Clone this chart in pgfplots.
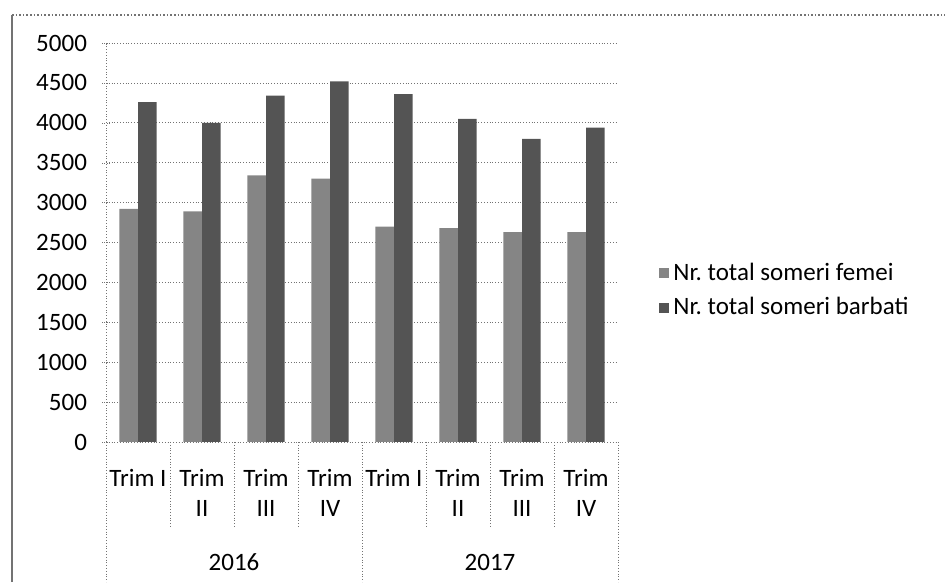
\documentclass[border=0pt]{standalone}
\usepackage{pgfplots}
\pgfplotsset{compat=1.18}
\usepackage{fontspec}
\setmainfont{Carlito}

\definecolor{femei}{gray}{0.52}
\definecolor{barbati}{gray}{0.33}
\definecolor{lin}{gray}{0.45}

\pgfplotstableread{
x femei barbati
0 2920 4260
1 2890 4000
2 3340 4340
3 3300 4520
4 2700 4360
5 2680 4050
6 2630 3800
7 2630 3940
}\somaj

\begin{document}
\begin{tikzpicture}[font=\fontsize{12.5}{15}\selectfont]
\useasboundingbox (0,0) rectangle (472.5pt,291pt);
% chenar exterior (scanat)
\draw[lin, line width=1.2pt] (6pt,0) -- (6pt,283.5pt);
\draw[lin, densely dotted, line width=0.8pt] (6pt,283.5pt) -- (472.5pt,283.5pt);
\begin{axis}[
    at={(53pt,70pt)}, anchor=south west,
    scale only axis, width=256pt, height=199.5pt,
    ybar=0pt, bar width=0.29,
    xmin=-0.5, xmax=7.5,
    ymin=0, ymax=5000,
    ytick={0,500,...,5000},
    xtick=data,
    xticklabels={Trim I,{Trim\\II},{Trim\\III},{Trim\\IV},Trim I,{Trim\\II},{Trim\\III},{Trim\\IV}},
    xticklabel style={align=center, anchor=north, yshift=-8pt},
    yticklabel style={xshift=-4pt},
    x tick style={draw=none},
    y tick style={lin, densely dotted},
    major tick length=4pt, tick align=outside,
    axis x line=bottom, axis y line=left,
    axis line style={-, lin, densely dotted},
    ymajorgrids, grid style={lin, densely dotted},
    /pgf/number format/assume math mode=true,
    /pgf/number format/1000 sep={},
    clip=false,
    legend style={at={(1.08,0.38)}, anchor=west, draw=none, fill=none,
        row sep=3pt, inner sep=0pt,
        /tikz/every even column/.append style={column sep=2pt}},
    legend cell align=left,
    legend image code/.code={\fill[#1] (0pt,-2.5pt) rectangle (5pt,2.5pt);},
]
\addplot[fill=femei, draw=none] table[x=x, y=femei] {\somaj};
\addlegendentry{Nr.\ total someri femei}
\addplot[fill=barbati, draw=none] table[x=x, y=barbati] {\somaj};
\addlegendentry{Nr.\ total someri barbati}
% separatoare categorii
\pgfplotsinvokeforeach{0.5,1.5,2.5,4.5,5.5,6.5}{
  \draw[lin, densely dotted] (axis cs:#1,0) -- ([yshift=-42.5pt]axis cs:#1,0);
}
\pgfplotsinvokeforeach{-0.5,3.5,7.5}{
  \draw[lin, densely dotted] (axis cs:#1,0) -- ([yshift=-70pt]axis cs:#1,0);
}
\node at (axis cs:1.5,0) [yshift=-60pt] {2016};
\node at (axis cs:5.5,0) [yshift=-60pt] {2017};
\end{axis}
\end{tikzpicture}
\end{document}
